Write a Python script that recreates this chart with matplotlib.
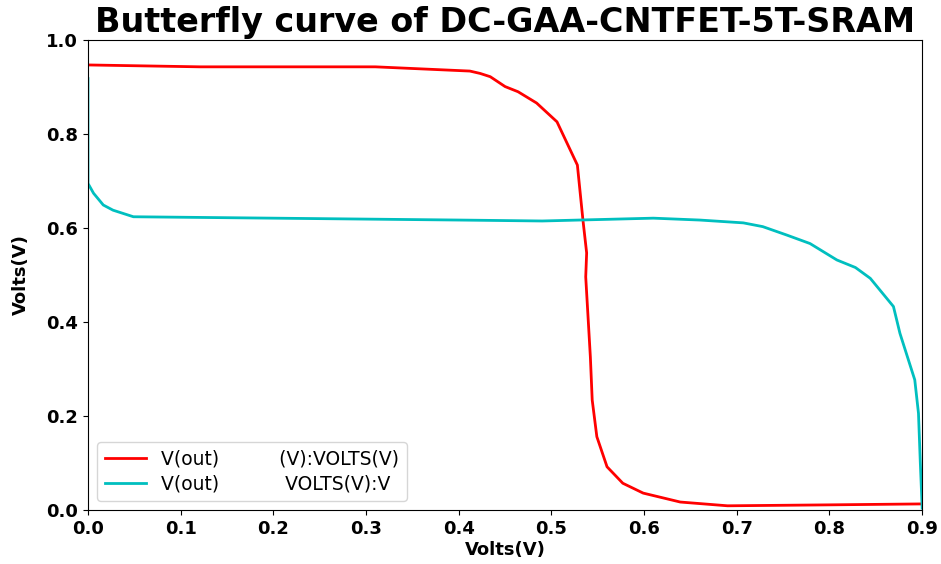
import matplotlib
matplotlib.use('Agg')
import matplotlib.pyplot as plt

# red curve: inverter 1 transfer, V(in) -> V(out)
red_x = [0.0, 0.121, 0.31, 0.412, 0.423, 0.434, 0.450, 0.464, 0.484, 0.506,
         0.528, 0.534, 0.538, 0.537, 0.542, 0.544, 0.549, 0.560, 0.577, 0.599,
         0.639, 0.69, 0.8, 0.9]
red_y = [0.947, 0.943, 0.943, 0.934, 0.929, 0.922, 0.901, 0.890, 0.866, 0.826,
         0.734, 0.617, 0.547, 0.496, 0.326, 0.234, 0.156, 0.092, 0.057, 0.036,
         0.017, 0.009, 0.011, 0.013]

# cyan curve: inverter 2 transfer, axes swapped
cyan_x = [0.0, 0.0, 0.006, 0.0165, 0.027, 0.049, 0.099, 0.2, 0.4, 0.49,
          0.61, 0.66, 0.707, 0.728, 0.754, 0.779, 0.808, 0.828, 0.844, 0.869,
          0.876, 0.892, 0.896, 0.898, 0.9]
cyan_y = [0.918, 0.695, 0.674, 0.649, 0.638, 0.624, 0.623, 0.621, 0.617, 0.615,
          0.621, 0.617, 0.611, 0.603, 0.585, 0.567, 0.532, 0.516, 0.493, 0.433,
          0.376, 0.277, 0.206, 0.1, 0.004]

labels = ['V(out)          (V):VOLTS(V)', 'V(out)           VOLTS(V):V']

fig = plt.figure(figsize=(9.41, 5.64), dpi=100)
ax = fig.add_axes([0.0935, 0.0957, 0.8865, 0.8333])
ax.plot(red_x, red_y, color='red', linewidth=2, label=labels[0])
ax.plot(cyan_x, cyan_y, color='c', linewidth=2, label=labels[1])
ax.set_xlim(0, 0.9)
ax.set_ylim(0, 1.0)
ax.set_title('Butterfly curve of DC-GAA-CNTFET-5T-SRAM', fontsize=24, fontweight='bold', pad=6)
ax.set_xlabel('Volts(V)', fontsize=13, fontweight='bold', labelpad=2)
ax.set_ylabel('Volts(V)', fontsize=13, fontweight='bold', labelpad=12)
for lab in ax.get_xticklabels() + ax.get_yticklabels():
    lab.set_fontsize(13)
    lab.set_fontweight('bold')
ax.legend(loc='lower left', fontsize=13.5, handlelength=2.2, labelspacing=0.3)
plt.savefig('out.png', dpi=100)
